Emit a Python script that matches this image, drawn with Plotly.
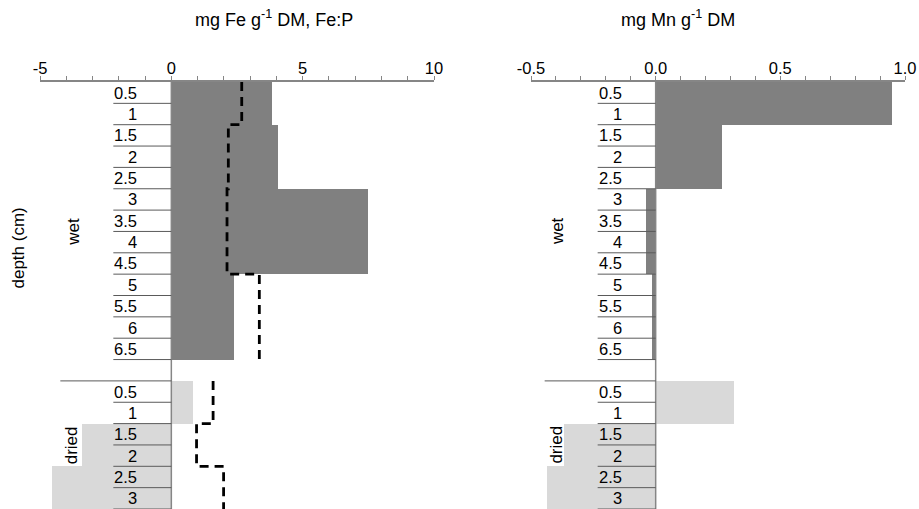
import numpy as np
import plotly.graph_objects as go

# depth classes (cm) for the wet and the dried core
wet_depths = ["0.5", "1", "1.5", "2", "2.5", "3", "3.5", "4", "4.5", "5", "5.5", "6", "6.5"]
dried_depths = ["0.5", "1", "1.5", "2", "2.5", "3"]

# mg Fe g-1 DM
fe_wet = [3.82, 3.82, 4.07, 4.07, 4.07, 7.49, 7.49, 7.49, 7.49, 2.37, 2.37, 2.37, 2.37]
fe_dried = [0.83, 0.83, -3.40, -3.40, -4.56, -4.56]

# Fe:P molar ratio
fep_wet = [2.68, 2.68, 2.17, 2.17, 2.17, 2.12, 2.12, 2.12, 2.12, 3.35, 3.35, 3.35, 3.35]
fep_dried = [1.59, 1.59, 0.96, 0.96, 1.99, 1.99]

# mg Mn g-1 DM
mn_wet = [0.948, 0.948, 0.265, 0.265, 0.265, -0.038, -0.038, -0.038, -0.038,
          -0.015, -0.015, -0.015, -0.015]
mn_dried = [0.313, 0.313, -0.367, -0.367, -0.435, -0.435]

# axis ticks
fe_ticks = [-5, 0, 5, 10]
fe_ticktext = ["-5", "0", "5", "10"]
mn_ticks = [-0.5, 0.0, 0.5, 1.0]
mn_ticktext = ["-0.5", "0.0", "0.5", "1.0"]

FONT = "Liberation Sans, Arial, sans-serif"
WET_COLOR = "#808080"
DRIED_COLOR = "#d9d9d9"
AXIS_COLOR = "#868686"
ROW_LINE_COLOR = "#5a5a5a"
LABEL_SIZE = 16.5
TEXT_SIZE = 17

W, H = 919, 509
TOP = 82

# row layout: wet rows, one empty row, then dried rows
n_wet = len(wet_depths)
n_dry = len(dried_depths)
wet_top = np.arange(n_wet)
dry_top = np.arange(n_dry) + n_wet + 1
wet_mid = wet_top + 0.5
dry_mid = dry_top + 0.5
n_rows = n_wet + 1 + n_dry

fig = go.Figure()

panels = [
    ("x", "y", fe_wet, fe_dried),
    ("x2", "y2", mn_wet, mn_dried),
]
for xa, ya, wet_vals, dry_vals in panels:
    fig.add_trace(go.Bar(x=wet_vals, y=wet_mid, orientation="h", width=1,
                         marker=dict(color=WET_COLOR, line=dict(width=0)),
                         xaxis=xa, yaxis=ya, showlegend=False, hoverinfo="skip"))
    fig.add_trace(go.Bar(x=dry_vals, y=dry_mid, orientation="h", width=1,
                         marker=dict(color=DRIED_COLOR, line=dict(width=0)),
                         xaxis=xa, yaxis=ya, showlegend=False, hoverinfo="skip"))

# Fe:P as a dashed step profile through each depth interval
for vals, tops in [(fep_wet, wet_top), (fep_dried, dry_top)]:
    xs = list(vals) + [vals[-1]]
    ys = list(tops) + [tops[-1] + 1]
    fig.add_trace(go.Scatter(x=xs, y=ys, mode="lines", line_shape="vh",
                             line=dict(color="black", width=2.8, dash="9px,6px"),
                             xaxis="x", yaxis="y", showlegend=False, hoverinfo="skip"))

shapes = []
annotations = []
for xa, ya in [("x", "y"), ("x2", "y2")]:
    # zero line
    shapes.append(dict(type="line", xref=xa, yref=f"{ya} domain", x0=0, x1=0, y0=0, y1=1,
                       line=dict(color=AXIS_COLOR, width=1.5), layer="above"))
    # separators beneath each depth label
    for b in list(wet_top + 1) + list(dry_top + 1):
        shapes.append(dict(type="line", xref=xa, yref=ya, xsizemode="pixel", xanchor=0,
                           x0=-58, x1=0, y0=b, y1=b,
                           line=dict(color=ROW_LINE_COLOR, width=1), layer="above"))
    shapes.append(dict(type="line", xref=xa, yref=ya, xsizemode="pixel", xanchor=0,
                       x0=-111, x1=0, y0=dry_top[0], y1=dry_top[0],
                       line=dict(color=ROW_LINE_COLOR, width=1), layer="above"))
    # depth labels
    for lab, yv in list(zip(wet_depths, wet_mid)) + list(zip(dried_depths, dry_mid)):
        annotations.append(dict(text=lab, x=0, y=yv, xref=xa, yref=ya, xanchor="right",
                                yanchor="middle", xshift=-32, showarrow=False,
                                font=dict(family=FONT, size=LABEL_SIZE, color="black")))
    # group labels
    annotations.append(dict(text="wet", x=0, y=7, xref=xa, yref=ya, xshift=-98,
                            textangle=-90, showarrow=False, xanchor="center", yanchor="middle",
                            font=dict(family=FONT, size=TEXT_SIZE, color="black")))
    annotations.append(dict(text="dried", x=0, y=dry_top[0] + n_dry / 2, xref=xa, yref=ya,
                            xshift=-99, textangle=-90, showarrow=False,
                            xanchor="center", yanchor="middle",
                            font=dict(family=FONT, size=TEXT_SIZE, color="black")))

plot_h = H - TOP
annotations.append(dict(text="depth (cm)", x=17.5 / W, y=(H - 248) / plot_h, xref="paper",
                        yref="paper", textangle=-90, showarrow=False, xanchor="center",
                        yanchor="middle", font=dict(family=FONT, size=TEXT_SIZE, color="black")))
annotations.append(dict(text="mg Fe g<sup>-1</sup> DM, Fe:P", x=274 / W, y=(H - 18) / plot_h,
                        xref="paper", yref="paper", showarrow=False, xanchor="center",
                        yanchor="middle", font=dict(family=FONT, size=18, color="black")))
annotations.append(dict(text="mg Mn g<sup>-1</sup> DM", x=678 / W, y=(H - 18) / plot_h,
                        xref="paper", yref="paper", showarrow=False, xanchor="center",
                        yanchor="middle", font=dict(family=FONT, size=18, color="black")))

xcommon = dict(side="top", showgrid=False, zeroline=False, showline=True, automargin=False,
               linecolor=AXIS_COLOR, linewidth=1.5, ticks="outside", ticklen=4,
               tickcolor=AXIS_COLOR, tickwidth=1, tickmode="array", ticklabelstandoff=-4,
               tickfont=dict(family=FONT, size=LABEL_SIZE, color="black"))
ycommon = dict(range=[n_rows, 0], showgrid=False, zeroline=False, showline=False,
               showticklabels=False, ticks="", automargin=False)

fig.update_layout(
    width=W, height=H,
    margin=dict(l=0, r=0, t=TOP, b=0, autoexpand=False),
    paper_bgcolor="white", plot_bgcolor="white",
    barmode="overlay", bargap=0,
    xaxis=dict(domain=[40 / W, 434 / W], range=[-5, 10], tickvals=fe_ticks,
               ticktext=fe_ticktext,
               minor=dict(tickmode="linear", tick0=-5, dtick=1, ticks="outside", ticklen=4,
                          tickcolor=AXIS_COLOR),
               anchor="y", **xcommon),
    xaxis2=dict(domain=[531 / W, 905 / W], range=[-0.5, 1.0], tickvals=mn_ticks,
                ticktext=mn_ticktext,
                minor=dict(tickmode="linear", tick0=-0.5, dtick=0.1, ticks="outside",
                           ticklen=4, tickcolor=AXIS_COLOR),
                anchor="y2", **xcommon),
    yaxis=dict(domain=[0, 1], anchor="x", **ycommon),
    yaxis2=dict(domain=[0, 1], anchor="x2", **ycommon),
    shapes=shapes,
    annotations=annotations,
)

fig.write_html("out.html")
